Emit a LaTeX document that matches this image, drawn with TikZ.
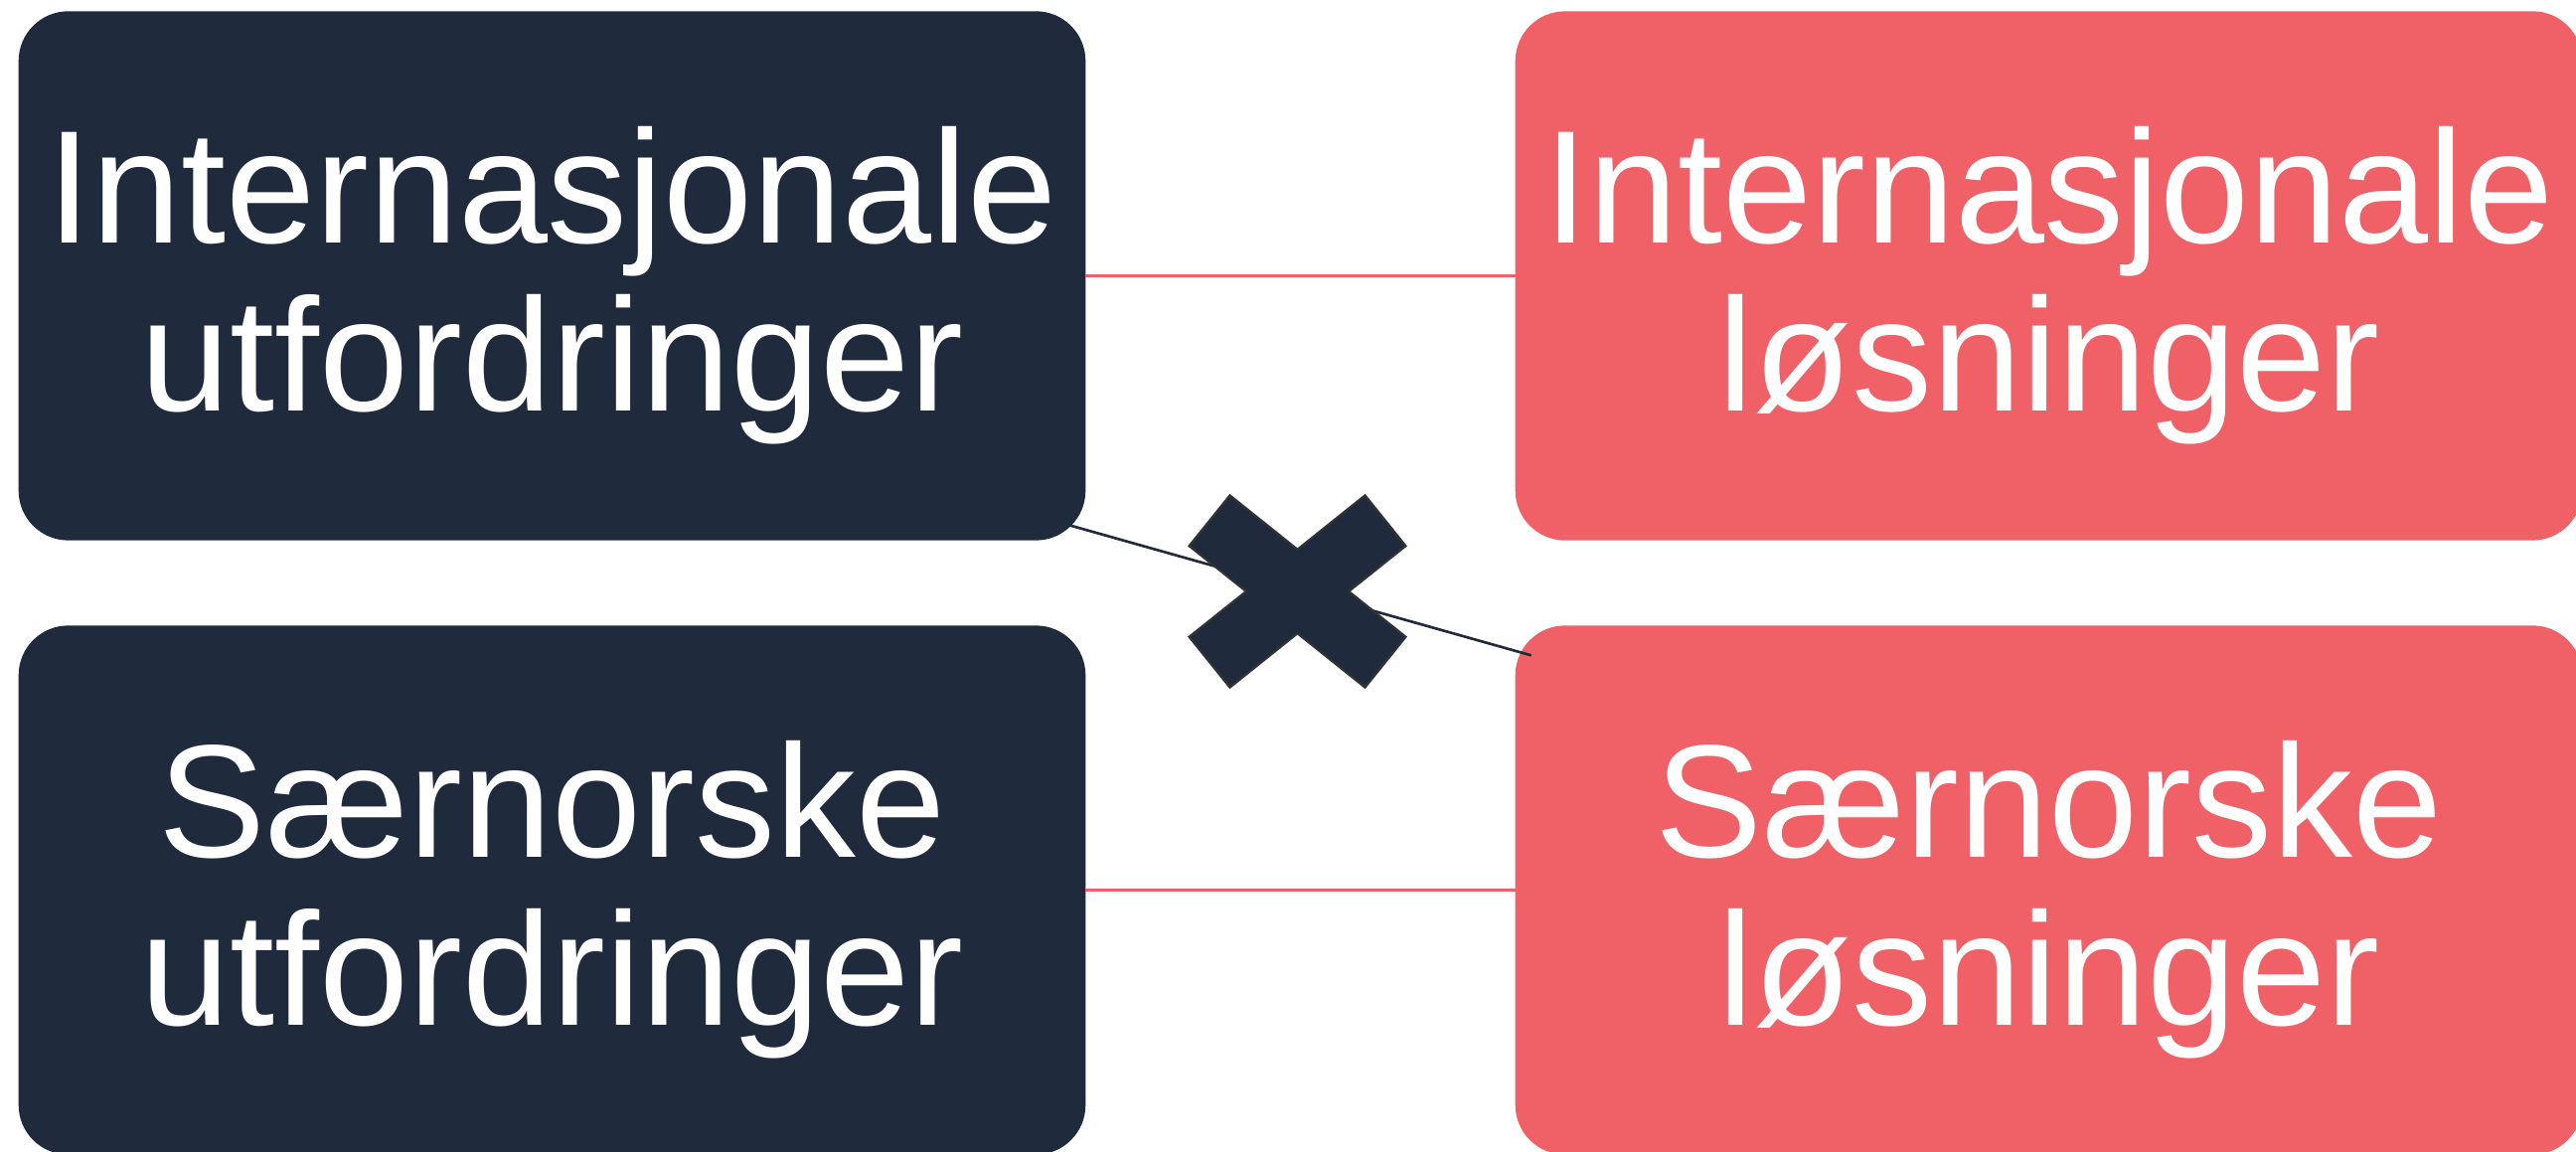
\documentclass[tikz,border=0pt]{standalone}
\usepackage{fontspec}
\setmainfont{Liberation Sans}
\definecolor{navy}{HTML}{1F2A3C}
\definecolor{coral}{HTML}{EF6067}
\tikzset{
  box/.style={rounded corners=0.5cm, inner sep=0pt, outer sep=0pt,
    minimum width=10.73cm, minimum height=5.32cm, text=white, align=center,
    font=\fontsize{46}{48}\selectfont},
  navybox/.style={box, fill=navy},
  coralbox/.style={box, fill=coral},
  redlink/.style={draw=coral, line width=0.77pt},
  darklink/.style={draw=navy, line width=0.75pt},
  xmark/.style={fill=navy, draw=black!80, line width=0.6pt, line join=miter}
}
\begin{document}
\begin{tikzpicture}[x=0.01cm,y=0.01cm]
\useasboundingbox (0,0) rectangle (2592,1158);
\node[navybox] (lt) at (555.5,880.5) {\rule{0pt}{39pt}Internasjonale\\utfordringer};
\node[coralbox] (rt) at (2061.5,880.5) {\rule{0pt}{39pt}Internasjonale\\løsninger};
\node[navybox] (lb) at (555.5,262.5) {\rule{0pt}{39pt}Særnorske\\utfordringer};
\node[coralbox] (rb) at (2061.5,262.5) {\rule{0pt}{39pt}Særnorske\\løsninger};
% ends of the diagonal connector, on the rounded corners of lt and rb
\coordinate (d1) at ([xshift=-0.19cm,yshift=0.16cm]lt.south east);
\coordinate (d2) at ([xshift=0.16cm,yshift=-0.30cm]rb.north west);
\draw[redlink] (lt.east) -- (rt.west);
\draw[redlink] (lb.east) -- (rb.west);
\draw[darklink] (d1) -- (d2);
\draw[xmark, shift={(1305.5,563)}]
  (-68,96.7) -- (0,42.3) -- (68,96.7) -- (109,45.7) -- (51.7,0) -- (109,-45.7)
  -- (68,-96.7) -- (0,-42.3) -- (-68,-96.7) -- (-109,-45.7) -- (-51.7,0)
  -- (-109,45.7) -- cycle;
\end{tikzpicture}
\end{document}
